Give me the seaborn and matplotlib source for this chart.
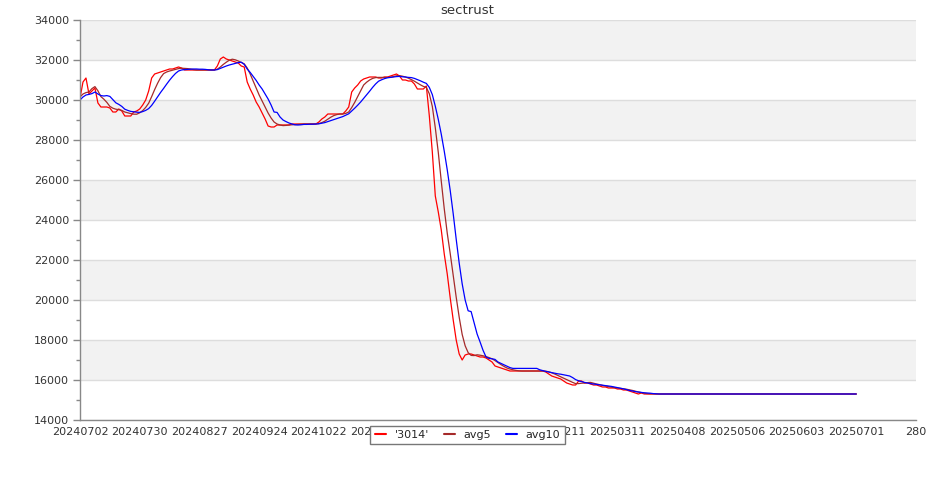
import numpy as np
import pandas as pd
import matplotlib
matplotlib.use('Agg')
import matplotlib.pyplot as plt
from matplotlib.ticker import MultipleLocator
import seaborn as sns

# values (one value per trading day)
price = [
    30100, 30900, 31100, 30300, 30450, 30600, 29850, 29650, 29650, 29650,
    29600, 29400, 29400, 29550, 29450, 29200, 29200, 29200, 29400, 29450,
    29550, 29750, 30000, 30450, 31100, 31300, 31350, 31400, 31450, 31500,
    31550, 31550, 31600, 31650, 31600, 31500, 31500, 31500, 31500, 31500,
    31500, 31500, 31500, 31500, 31500, 31500, 31700, 32050, 32150, 32050,
    32000, 31950, 31900, 31850, 31700, 31650, 30900, 30550, 30250, 29900,
    29650, 29350, 29050, 28700, 28650, 28650, 28750, 28750, 28750, 28750,
    28750, 28800, 28800, 28800, 28800, 28800, 28800, 28800, 28800, 28800,
    28900, 29050, 29150, 29300, 29300, 29300, 29300, 29300, 29300, 29450,
    29650, 30400, 30600, 30750, 30950, 31050, 31100, 31150, 31150, 31150,
    31100, 31100, 31150, 31150, 31200, 31250, 31300, 31200, 31000, 31000,
    30950, 30950, 30800, 30550, 30550, 30550, 30700, 29200, 27400, 25200,
    24400, 23500, 22300, 21300, 20100, 19000, 18000, 17300, 17000, 17250,
    17300, 17300, 17250, 17200, 17150, 17150, 17100, 17000, 16900, 16700,
    16650, 16600, 16550, 16500, 16450, 16450, 16450, 16450, 16450, 16450,
    16450, 16450, 16450, 16450, 16450, 16450, 16400, 16300, 16200, 16150,
    16100, 16050, 15950, 15850, 15800, 15750, 15750, 15950, 15950, 15850,
    15850, 15800, 15750, 15750, 15700, 15650, 15650, 15600, 15600, 15600,
    15550, 15550, 15500, 15500, 15450, 15400, 15350, 15300, 15350, 15300,
    15300, 15300, 15300, 15300, 15300, 15300, 15300, 15300, 15300, 15300,
    15300, 15300, 15300, 15300, 15300, 15300, 15300, 15300, 15300, 15300,
    15300, 15300, 15300, 15300, 15300, 15300, 15300, 15300, 15300, 15300,
    15300, 15300, 15300, 15300, 15300, 15300, 15300, 15300, 15300, 15300,
    15300, 15300, 15300, 15300, 15300, 15300, 15300, 15300, 15300, 15300,
    15300, 15300, 15300, 15300, 15300, 15300, 15300, 15300, 15300, 15300,
    15300, 15300, 15300, 15300, 15300, 15300, 15300, 15300, 15300, 15300,
    15300,
]

avg5 = [
    30150, 30300, 30370, 30400, 30570, 30670, 30460, 30170, 30040, 29880,
    29680, 29590, 29540, 29520, 29480, 29400, 29360, 29320, 29290, 29290,
    29360, 29470, 29630, 29840, 30170, 30520, 30840, 31120, 31320, 31400,
    31450, 31490, 31530, 31570, 31590, 31580, 31570, 31550, 31520, 31500,
    31500, 31500, 31500, 31500, 31500, 31500, 31540, 31650, 31780, 31890,
    31990, 32040, 32010, 31950, 31880, 31810, 31600, 31300, 30950, 30600,
    30250, 29950, 29650, 29350, 29100, 28900, 28800, 28750, 28720, 28730,
    28750, 28760, 28770, 28780, 28790, 28800, 28800, 28800, 28800, 28800,
    28820, 28870, 28940, 29040, 29140, 29220, 29270, 29300, 29300, 29330,
    29400, 29620, 29880, 30170, 30470, 30750, 30890, 31000, 31080, 31120,
    31130, 31130, 31130, 31130, 31140, 31170, 31210, 31220, 31190, 31150,
    31090, 31020, 30940, 30850, 30760, 30680, 30630, 30310, 29680, 28610,
    27380, 25940, 24560, 23340, 22320, 21240, 20140, 19140, 18280, 17710,
    17370, 17230, 17220, 17260, 17240, 17210, 17170, 17120, 17060, 16970,
    16870, 16770, 16680, 16600, 16550, 16510, 16480, 16460, 16450, 16450,
    16450, 16450, 16450, 16450, 16450, 16450, 16440, 16410, 16360, 16300,
    16230, 16160, 16090, 16020, 15950, 15880, 15820, 15820, 15840, 15850,
    15870, 15880, 15840, 15800, 15770, 15730, 15700, 15670, 15640, 15620,
    15600, 15580, 15560, 15540, 15510, 15480, 15440, 15400, 15370, 15340,
    15320, 15310, 15310, 15300, 15300, 15300, 15300, 15300, 15300, 15300,
    15300, 15300, 15300, 15300, 15300, 15300, 15300, 15300, 15300, 15300,
    15300, 15300, 15300, 15300, 15300, 15300, 15300, 15300, 15300, 15300,
    15300, 15300, 15300, 15300, 15300, 15300, 15300, 15300, 15300, 15300,
    15300, 15300, 15300, 15300, 15300, 15300, 15300, 15300, 15300, 15300,
    15300, 15300, 15300, 15300, 15300, 15300, 15300, 15300, 15300, 15300,
    15300, 15300, 15300, 15300, 15300, 15300, 15300, 15300, 15300, 15300,
    15300,
]

avg10 = [
    30000, 30150, 30250, 30280, 30320, 30400, 30300, 30220, 30200, 30220,
    30180, 30020, 29860, 29780, 29680, 29540, 29480, 29430, 29410, 29390,
    29380, 29420, 29480, 29570, 29730, 29940, 30160, 30380, 30580, 30790,
    30990, 31170, 31330, 31450, 31500, 31520, 31530, 31540, 31550, 31550,
    31540, 31540, 31530, 31510, 31500, 31500, 31520, 31580, 31640, 31700,
    31750, 31790, 31830, 31870, 31890, 31780, 31550, 31380, 31180, 30980,
    30750, 30550, 30300, 30050, 29750, 29400, 29380, 29150, 29000, 28920,
    28850, 28800, 28760, 28750, 28760, 28780, 28780, 28790, 28790, 28800,
    28810, 28840, 28870, 28920, 28970, 29020, 29070, 29120, 29170, 29240,
    29310, 29450, 29590, 29740, 29900, 30080, 30260, 30440, 30630, 30800,
    30940, 31010, 31070, 31110, 31130, 31150, 31170, 31180, 31160, 31150,
    31130, 31120, 31080, 31020, 30960, 30890, 30830, 30630, 30270, 29690,
    29030, 28290, 27440, 26510, 25470, 24310, 23040, 21850, 20810, 20000,
    19460, 19420, 18850, 18300, 17900, 17480, 17150, 17080, 17060, 17030,
    16900, 16830, 16760, 16690, 16620, 16580, 16580, 16580, 16580, 16580,
    16580, 16580, 16580, 16580, 16510, 16470, 16430, 16400, 16370, 16340,
    16310, 16290, 16260, 16230, 16200, 16120, 16020, 15960, 15920, 15880,
    15850, 15820, 15800, 15780, 15760, 15740, 15720, 15700, 15680, 15650,
    15620, 15590, 15560, 15520, 15480, 15450, 15420, 15400, 15380, 15360,
    15350, 15340, 15320, 15310, 15300, 15300, 15300, 15300, 15300, 15300,
    15300, 15300, 15300, 15300, 15300, 15300, 15300, 15300, 15300, 15300,
    15300, 15300, 15300, 15300, 15300, 15300, 15300, 15300, 15300, 15300,
    15300, 15300, 15300, 15300, 15300, 15300, 15300, 15300, 15300, 15300,
    15300, 15300, 15300, 15300, 15300, 15300, 15300, 15300, 15300, 15300,
    15300, 15300, 15300, 15300, 15300, 15300, 15300, 15300, 15300, 15300,
    15300, 15300, 15300, 15300, 15300, 15300, 15300, 15300, 15300, 15300,
    15300,
]

# x tick labels, one every 20 trading days
xlabels = ['20240702', '20240730', '20240827', '20240924', '20241022',
           '20241119', '20241217', '20250115', '20250211', '20250311',
           '20250408', '20250506', '20250603', '20250701', '280']

df = pd.DataFrame({"'3014'": price, 'avg5': avg5, 'avg10': avg10})
df['n'] = np.arange(len(df))

sns.set_style('white')
fig, ax = plt.subplots(figsize=(9.35, 5), dpi=100)
fig.subplots_adjust(left=80 / 935, right=916 / 935, top=0.96, bottom=0.16)

# alternating background bands + grid
for lo in range(16000, 34000, 4000):
    ax.axhspan(lo, lo + 2000, color='#f2f2f2', lw=0, zorder=0)
ax.yaxis.grid(True, color='#dddddd', lw=1)
ax.set_axisbelow(True)

colors = {"'3014'": '#ff0000', 'avg5': '#a52a2a', 'avg10': '#0000ff'}
for col, c in colors.items():
    sns.lineplot(data=df, x='n', y=col, color=c, lw=0.9, label=col,
                 estimator=None, ax=ax)

ax.set_xlim(0, 280)
ax.set_ylim(14000, 34000)
ax.set_xticks(range(0, 281, 20))
ax.set_xticklabels(xlabels)
ax.yaxis.set_major_locator(MultipleLocator(2000))
ax.yaxis.set_minor_locator(MultipleLocator(1000))
ax.set_xlabel('')
ax.set_ylabel('')

for s in ['top', 'right']:
    ax.spines[s].set_visible(False)
for s in ['left', 'bottom']:
    ax.spines[s].set_color('#888888')
    ax.spines[s].set_linewidth(1)

ax.tick_params(axis='y', which='major', left=True, length=5, width=1,
               color='#888888', labelsize=8, labelcolor='#333333', pad=3)
ax.tick_params(axis='y', which='minor', left=True, length=3, width=1,
               color='#888888')
ax.tick_params(axis='x', length=0, labelsize=8, labelcolor='#333333', pad=5)

fig.text(0.5, 0.98, 'sectrust', ha='center', va='center', fontsize=9.5,
         color='#333333')

# legend sits over the middle tick labels, as in the reference
handles, labels = ax.get_legend_handles_labels()
ax.get_legend().remove()
leg = fig.legend(handles, labels, loc='center', bbox_to_anchor=(0.5, 0.13),
                 ncol=3, frameon=True, fancybox=False, framealpha=1,
                 edgecolor='#777777', facecolor='white',
                 fontsize=8, handlelength=1.0, handletextpad=0.8,
                 columnspacing=1.3, borderpad=0.4)
leg.get_frame().set_linewidth(1)
for h in leg.legend_handles:
    h.set_linewidth(1.5)

fig.savefig('out.png', dpi=100)
